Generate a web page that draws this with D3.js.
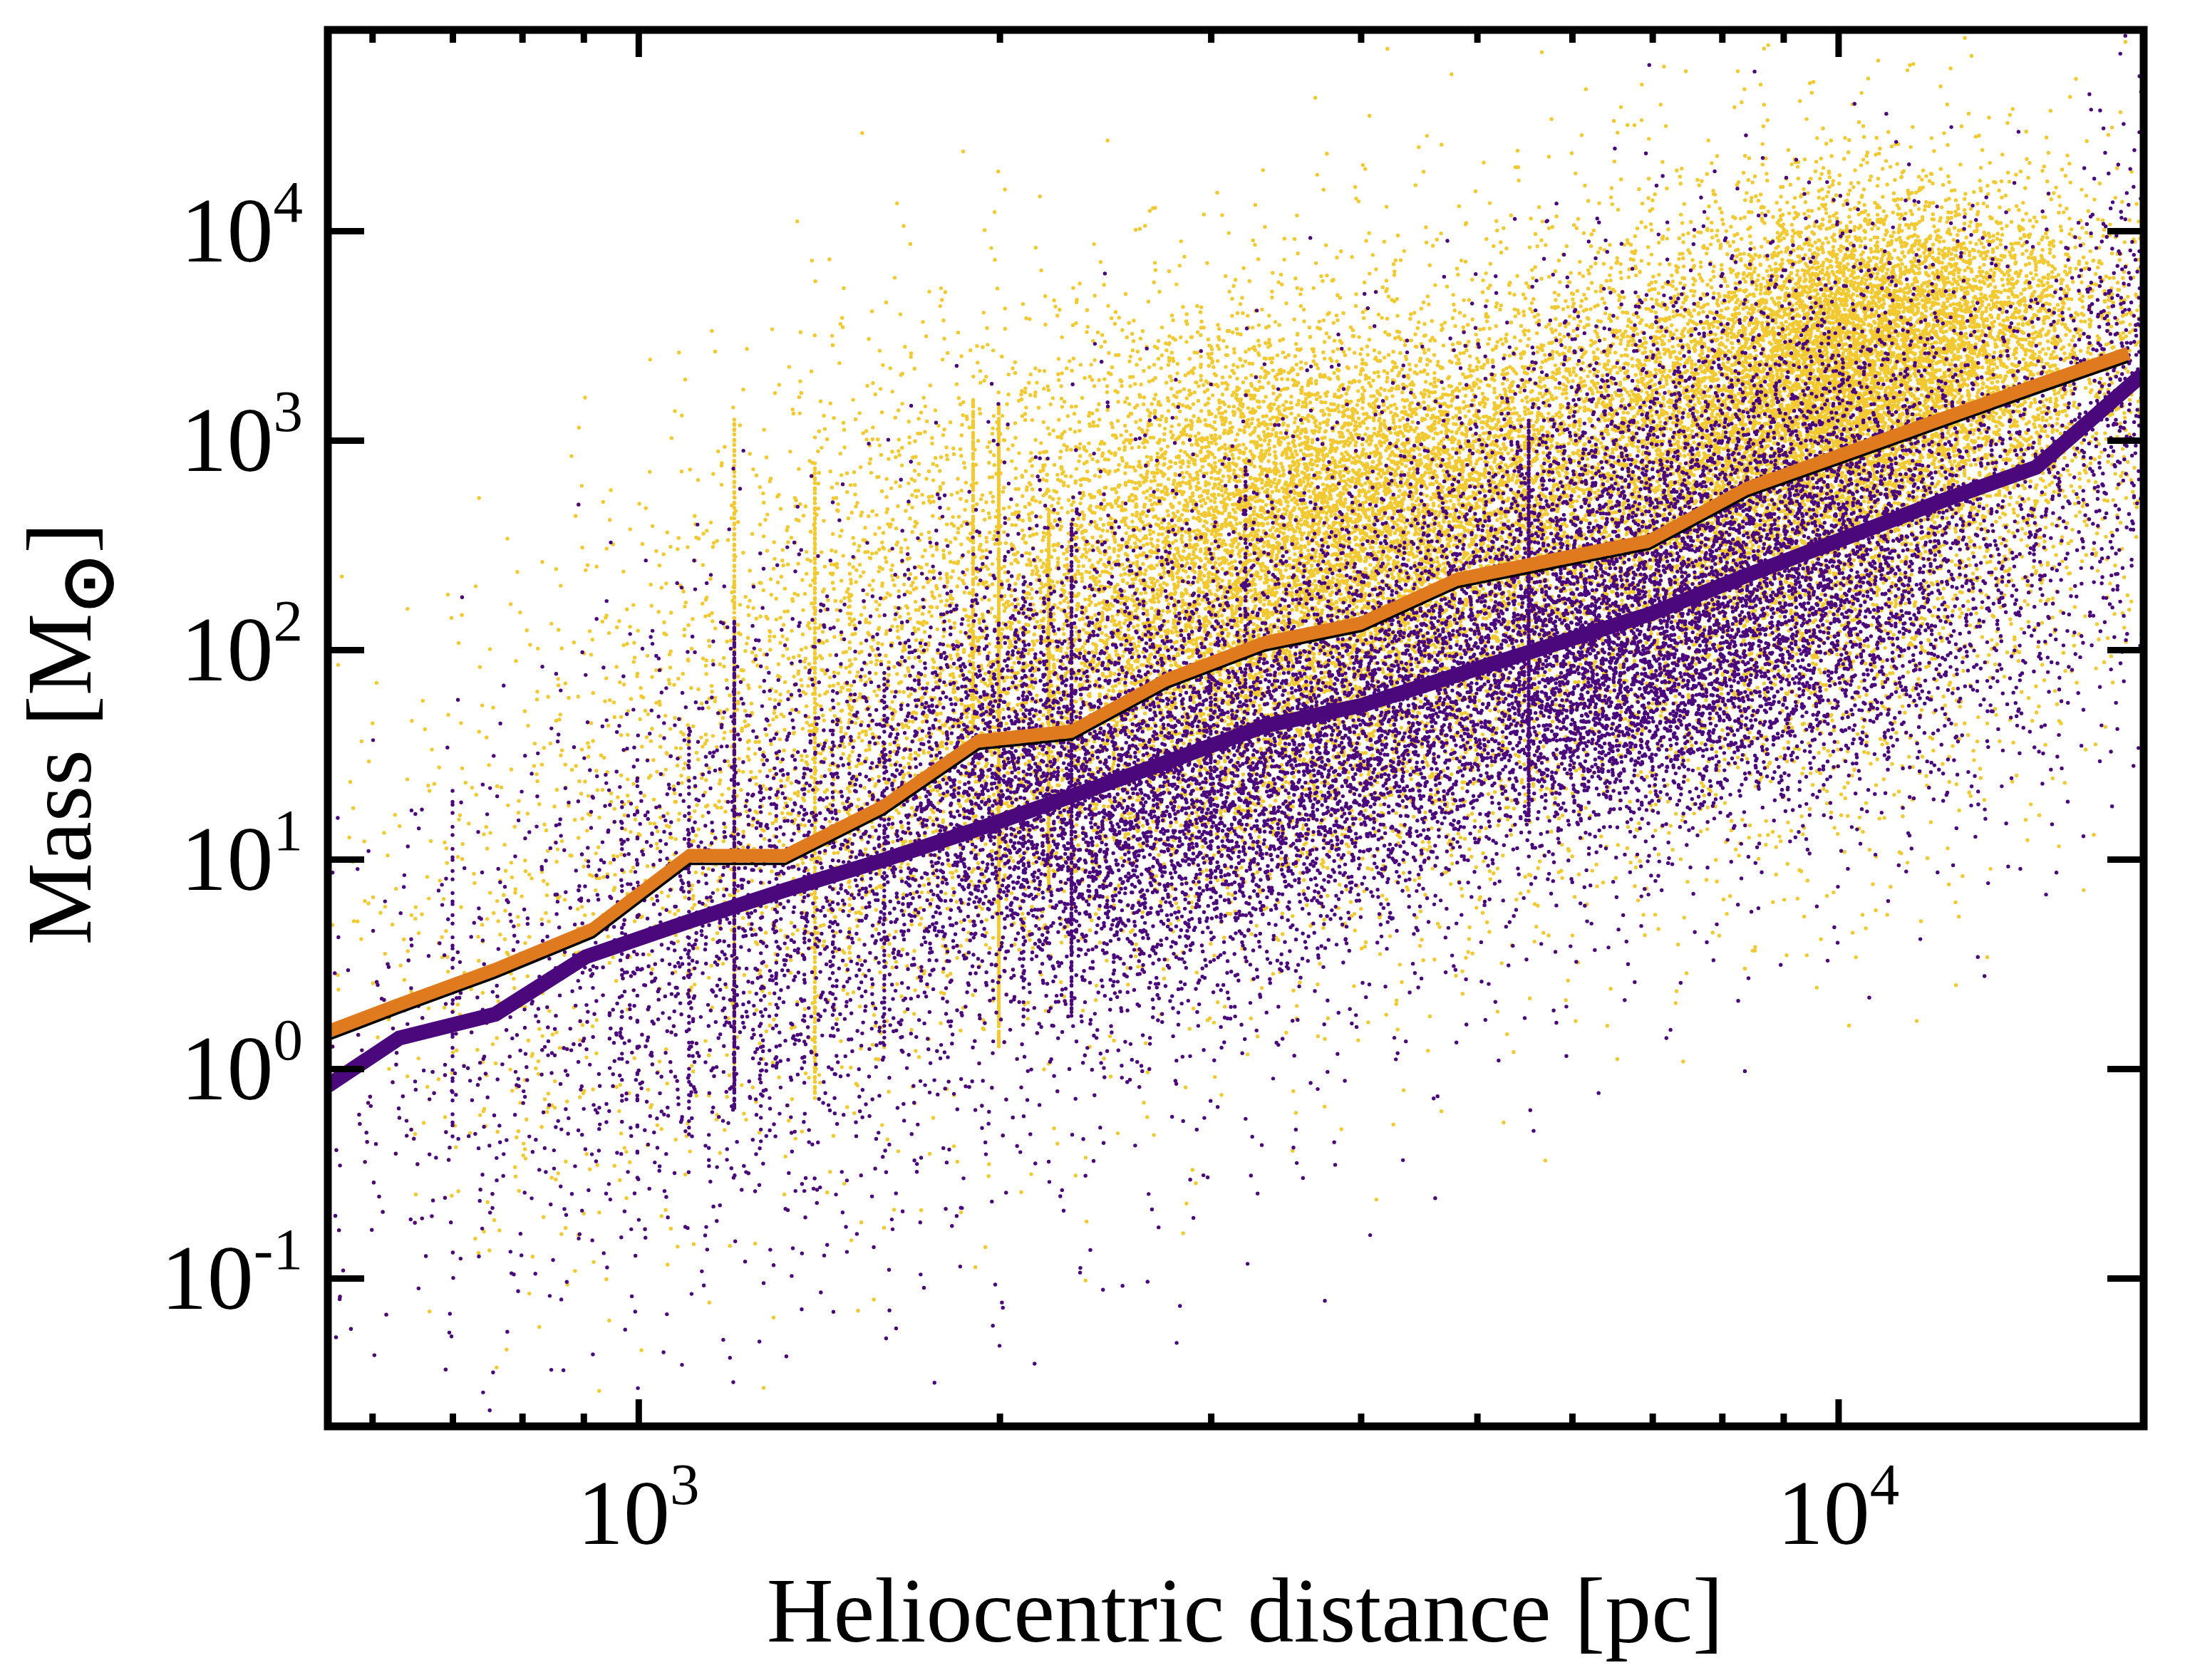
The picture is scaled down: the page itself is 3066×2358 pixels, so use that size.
<!DOCTYPE html>
<html>
<head>
<meta charset="utf-8">
<script src="https://cdn.jsdelivr.net/npm/d3@7"></script>
<style>
  html, body { margin: 0; padding: 0; background: #fff; }
  svg { display: block; }
  text { font-family: "Liberation Serif", "Times New Roman", serif; fill: #000; }
</style>
</head>
<body>
<div id="chart"></div>
<script>
// ---------------- data ----------------

// running curves: distance bins [pc] and masses [Msun]
const binDistance = [551, 632, 760, 918, 1104, 1327, 1603, 1923, 2301, 2761, 3327, 4009, 4819, 5794, 6966, 8414, 10116, 12162, 14622, 17458];
const orangeMass  = [1.50, 2.02, 2.97, 4.65, 10.4, 10.4, 17.9, 36.7, 40.9, 72, 108, 134, 217, 269, 331, 592, 861, 1256, 1828, 2600];
const blackMass   = [1.37, 1.85, 2.72, 4.25, 9.5, 9.5, 16.4, 33.6, 37.4, 66, 99, 123, 199, 246, 303, 542, 788, 1150, 1673, 2380];
const purpleDistance = [551, 632, 760, 904, 1104, 1327, 1603, 1923, 2301, 2761, 3327, 4009, 4819, 5794, 6966, 8414, 10116, 12162, 14622, 17947];
const purpleMass  = [0.83, 1.40, 1.82, 3.42, 5.06, 7.14, 9.93, 14.0, 20.1, 29.2, 43.3, 54.3, 76, 106, 148, 228, 340, 510, 743, 2070];

// scatter, counted on a grid: distance bin edges [pc] x log10 mass bin edges
const distEdges = [550, 708, 891, 1122, 1413, 1778, 2239, 2818, 3548, 4467, 5623, 7079, 8913, 11220, 14125, 16218, 18200];
const massEdgeExp = [-1.75, -1.5, -1.25, -1, -0.75, -0.5, -0.25, 0, 0.25, 0.5, 0.75, 1, 1.25, 1.5, 1.75, 2,
                     2.25, 2.5, 2.75, 3, 3.25, 3.5, 3.75, 4, 4.25, 4.5, 4.75, 5];

// counts per cell, one row per distance bin, from lowest mass bin up
const yellowCounts = [
  [2,3,5,8,12,18,21,21,21,18,15,12,8,5,3,2,1,0,0,0,0,0,0,0,0,0,0],
  [1,2,4,7,12,18,24,30,32,30,27,23,18,13,9,7,4,2,1,0,0,0,0,0,0,0,0],
  [0,2,3,5,8,12,18,26,34,40,44,46,44,40,34,26,18,11,6,3,1,0,0,0,0,0,0],
  [0,1,2,3,5,9,13,20,28,38,52,64,72,72,66,56,44,30,18,10,5,2,1,0,0,0,0],
  [0,0,1,2,4,7,12,20,30,46,66,86,100,110,112,105,95,76,54,34,20,10,4,2,1,0,0],
  [0,0,1,2,3,6,9,15,26,40,64,110,150,175,180,165,135,100,72,48,28,14,6,2,1,0,0],
  [0,0,0,1,2,3,5,8,12,20,45,100,150,200,260,290,280,230,165,100,55,26,10,4,1,0,0],
  [0,0,0,0,1,2,3,6,10,18,45,95,160,240,330,400,480,460,380,270,160,40,14,4,1,0,0],
  [0,0,0,0,1,2,3,5,9,16,35,70,120,190,280,370,470,500,460,320,120,45,25,8,4,2,1],
  [0,0,0,0,0,1,2,4,7,14,26,45,75,110,160,230,340,420,420,320,150,55,20,8,4,2,1],
  [0,0,0,0,0,0,0,2,3,7,14,24,40,65,100,150,210,260,290,280,220,120,60,20,8,4,2],
  [0,0,0,0,0,0,0,1,3,7,14,24,40,65,120,180,280,380,480,530,450,260,110,45,14,6,3],
  [0,0,0,0,0,0,0,1,3,6,12,22,38,62,100,160,240,350,560,760,860,780,400,150,40,8,3],
  [0,0,0,0,0,0,0,0,1,2,5,9,16,27,44,70,110,170,300,450,580,580,360,100,25,6,3],
  [0,0,0,0,0,0,0,0,0,0,1,1,3,5,9,15,24,37,56,85,110,115,70,20,8,3,1],
  [0,0,0,0,0,0,0,0,0,0,0,1,1,2,4,7,11,18,29,45,60,65,40,10,4,1,1]
];
const purpleCounts = [
  [2,3,5,8,12,16,18,18,16,12,8,5,3,1,0,0,0,0,0,0,0,0,0,0,0,0,0],
  [2,4,6,10,16,24,30,33,30,23,17,12,7,4,2,1,0,0,0,0,0,0,0,0,0,0,0],
  [2,3,5,9,16,28,42,58,70,72,64,50,34,21,13,7,3,1,0,0,0,0,0,0,0,0,0],
  [1,3,5,10,18,30,46,66,82,90,90,82,66,46,30,18,10,5,2,0,0,0,0,0,0,0,0],
  [1,2,4,7,12,20,32,50,70,100,130,140,120,90,56,32,16,8,4,1,0,0,0,0,0,0,0],
  [1,2,3,5,8,12,16,28,50,110,190,280,300,240,165,95,50,23,10,5,2,0,0,0,0,0,0],
  [0,1,2,3,5,8,14,35,75,150,240,300,300,250,170,100,55,28,12,6,3,1,0,0,0,0,0],
  [0,0,1,2,3,5,8,18,40,100,190,280,310,270,190,120,70,35,16,8,4,2,0,0,0,0,0],
  [0,0,0,1,2,3,4,7,12,30,100,210,300,310,260,180,110,60,30,15,8,3,1,0,0,0,0],
  [0,0,0,0,0,1,2,4,7,14,30,80,170,260,300,280,210,130,70,35,18,8,3,1,0,0,0],
  [0,0,0,0,0,0,1,3,6,12,15,60,200,380,420,400,330,250,170,100,60,30,12,4,1,0,0],
  [0,0,0,0,0,0,0,1,3,6,8,30,100,240,340,380,360,300,220,140,80,45,20,8,3,1,0],
  [0,0,0,0,0,0,0,0,1,3,5,14,40,120,200,270,310,300,250,170,100,60,30,12,4,2,0],
  [0,0,0,0,0,0,0,0,1,2,4,10,22,45,75,105,130,135,120,90,60,40,20,8,3,1,0],
  [0,0,0,0,0,0,0,0,0,0,1,2,4,8,14,20,26,30,32,30,24,16,8,3,1,0,0],
  [0,0,0,0,0,0,0,0,0,0,0,1,2,5,9,15,24,36,50,62,68,60,42,18,8,5,2]
];

// sources piled up at one distance: [distance pc, mass low, mass high, count]
const yellowStreaks = [
  [553, 0.063, 25, 40],
  [1202, 0.79, 1260, 200],
  [1403, 0.71, 794, 200],
  [1500, 3, 200, 40],
  [1901, 40, 1585, 110],
  [1997, 1.26, 1480, 250],
  [2198, 7.1, 468, 140]
];
const purpleStreaks = [
  [700, 0.45, 22, 40],
  [969, 0.5, 20, 25],
  [998, 0.3, 30, 30],
  [1102, 0.45, 45, 50],
  [1202, 0.63, 141, 160],
  [1265, 0.4, 25, 30],
  [1303, 1, 40, 25],
  [1375, 0.8, 30, 25],
  [1452, 1.5, 60, 30],
  [1603, 1.26, 79, 60],
  [2094, 1.58, 251, 50],
  [2296, 1.78, 398, 170],
  [2999, 7.1, 89, 40],
  [3206, 63, 794, 35],
  [5521, 16, 1260, 150]
];

// axis ticks
const xMajor = [1000, 10000];
const xMajorExp = ["3", "4"];
const xMinor = [600, 700, 800, 900, 2000, 3000, 4000, 5000, 6000, 7000, 8000, 9000];
const yMajor = [0.1, 1, 10, 100, 1000, 10000];
const yMajorExp = ["-1", "0", "1", "2", "3", "4"];

// ---------------- drawing ----------------
const W = 3066, H = 2358;
const margin = {top: 42, right: 58, bottom: 356, left: 460};
const plotW = W - margin.left - margin.right;
const plotH = H - margin.top - margin.bottom;

const colors = {
  yellow: "#F2C930",
  purple: "#4B077C",
  orange: "#E07A1F",
  black: "#000000"
};

const svg = d3.select("#chart").append("svg")
  .attr("width", W)
  .attr("height", H);

const x = d3.scaleLog().domain([551, 17970]).range([margin.left, margin.left + plotW]);
const y = d3.scaleLog().domain([0.0196, 91000]).range([margin.top + plotH, margin.top]);

svg.append("clipPath").attr("id", "plot-clip")
  .append("rect")
  .attr("x", margin.left).attr("y", margin.top)
  .attr("width", plotW).attr("height", plotH);

const plot = svg.append("g").attr("clip-path", "url(#plot-clip)");

// low discrepancy sequence, used to spread each cell's count inside the cell
function halton(i, b) {
  let f = 1, r = 0;
  while (i > 0) {
    f /= b;
    r += f * (i % b);
    i = Math.floor(i / b);
  }
  return r;
}

function stipple(counts, streaks, color) {
  const p = d3.path();
  let k = 1;
  counts.forEach((col, i) => {
    const lx0 = Math.log10(distEdges[i]), lx1 = Math.log10(distEdges[i + 1]);
    col.forEach((n, j) => {
      const ly0 = massEdgeExp[j], ly1 = massEdgeExp[j + 1];
      for (let m = 0; m < n; m++, k++) {
        // tent spread so that neighbouring cells blend smoothly
        const lx = (lx0 + lx1) / 2 + (halton(k, 2) + halton(k, 3) - 1) * (lx1 - lx0);
        const ly = (ly0 + ly1) / 2 + (halton(k, 5) + halton(k, 7) - 1) * (ly1 - ly0);
        const px = x(Math.pow(10, lx)), py = y(Math.pow(10, ly));
        p.moveTo(px, py);
        p.lineTo(px + 0.01, py);
      }
    });
  });
  streaks.forEach(([d, lo, hi, n]) => {
    const px = x(d);
    const a = Math.log10(lo), b = Math.log10(hi);
    for (let m = 0; m < n; m++, k++) {
      const py = y(Math.pow(10, a + halton(k, 2) * (b - a)));
      p.moveTo(px, py);
      p.lineTo(px + 0.01, py);
    }
  });
  plot.append("path")
    .attr("d", p.toString())
    .attr("fill", "none")
    .attr("stroke", color)
    .attr("stroke-width", 5.4)
    .attr("stroke-linecap", "round");
}

stipple(yellowCounts, yellowStreaks, colors.yellow);
stipple(purpleCounts, purpleStreaks, colors.purple);

// running curves
const line = d3.line()
  .x(d => x(d[0]))
  .y(d => y(d[1]));

plot.append("path")
  .attr("d", line(d3.zip(binDistance, orangeMass)))
  .attr("fill", "none")
  .attr("stroke", colors.orange)
  .attr("stroke-width", 19)
  .attr("stroke-linejoin", "miter");

plot.append("path")
  .attr("d", line(d3.zip(binDistance, blackMass)))
  .attr("fill", "none")
  .attr("stroke", colors.black)
  .attr("stroke-width", 3.5);

plot.append("path")
  .attr("d", line(d3.zip(purpleDistance, purpleMass)))
  .attr("fill", "none")
  .attr("stroke", colors.purple)
  .attr("stroke-width", 21)
  .attr("stroke-linejoin", "miter");

// ticks (all pointing inward)
function ticks(axis, transform) {
  const g = svg.append("g").attr("transform", transform).call(axis);
  g.select(".domain").remove();
  g.selectAll(".tick line").attr("stroke", "#000").attr("stroke-width", 9);
  g.selectAll(".tick text").remove();
  return g;
}
const bottomY = margin.top + plotH, rightX = margin.left + plotW;

ticks(d3.axisBottom(x).tickValues(xMajor).tickSize(-38).tickSizeOuter(0), `translate(0,${bottomY})`);
ticks(d3.axisBottom(x).tickValues(xMinor).tickSize(-18).tickSizeOuter(0), `translate(0,${bottomY})`);
ticks(d3.axisTop(x).tickValues(xMajor).tickSize(-38).tickSizeOuter(0), `translate(0,${margin.top})`);
ticks(d3.axisTop(x).tickValues(xMinor).tickSize(-18).tickSizeOuter(0), `translate(0,${margin.top})`);
ticks(d3.axisLeft(y).tickValues(yMajor).tickSize(-51).tickSizeOuter(0), `translate(${margin.left},0)`);
ticks(d3.axisRight(y).tickValues(yMajor).tickSize(-51).tickSizeOuter(0), `translate(${rightX},0)`);

// frame
svg.append("rect")
  .attr("x", margin.left).attr("y", margin.top)
  .attr("width", plotW).attr("height", plotH)
  .attr("fill", "none")
  .attr("stroke", "#000")
  .attr("stroke-width", 11);

// tick labels with superscript exponents
yMajor.forEach((v, i) => {
  const t = svg.append("text")
    .attr("x", 425)
    .attr("y", y(v) + 43)
    .attr("text-anchor", "end")
    .attr("font-size", 130);
  t.append("tspan").text("10");
  t.append("tspan").attr("dy", -56).attr("font-size", 83).text(yMajorExp[i]);
});

xMajor.forEach((v, i) => {
  const t = svg.append("text")
    .attr("x", x(v))
    .attr("y", 2167)
    .attr("text-anchor", "middle")
    .attr("font-size", 130);
  t.append("tspan").text("10");
  t.append("tspan").attr("dy", -56).attr("font-size", 83).text(xMajorExp[i]);
});

// axis titles
svg.append("text")
  .attr("x", 1747)
  .attr("y", 2304)
  .attr("text-anchor", "middle")
  .attr("font-size", 130)
  .text("Heliocentric distance [pc]");

const yt = svg.append("text")
  .attr("transform", "translate(127,1030) rotate(-90)")
  .attr("text-anchor", "middle")
  .attr("font-size", 130);
yt.append("tspan").text("Mass [M");
yt.append("tspan").attr("dy", 30).attr("font-size", 100).attr("font-weight", "bold").text("\u2299");
yt.append("tspan").attr("dy", -30).text("]");
</script>
</body>
</html>
